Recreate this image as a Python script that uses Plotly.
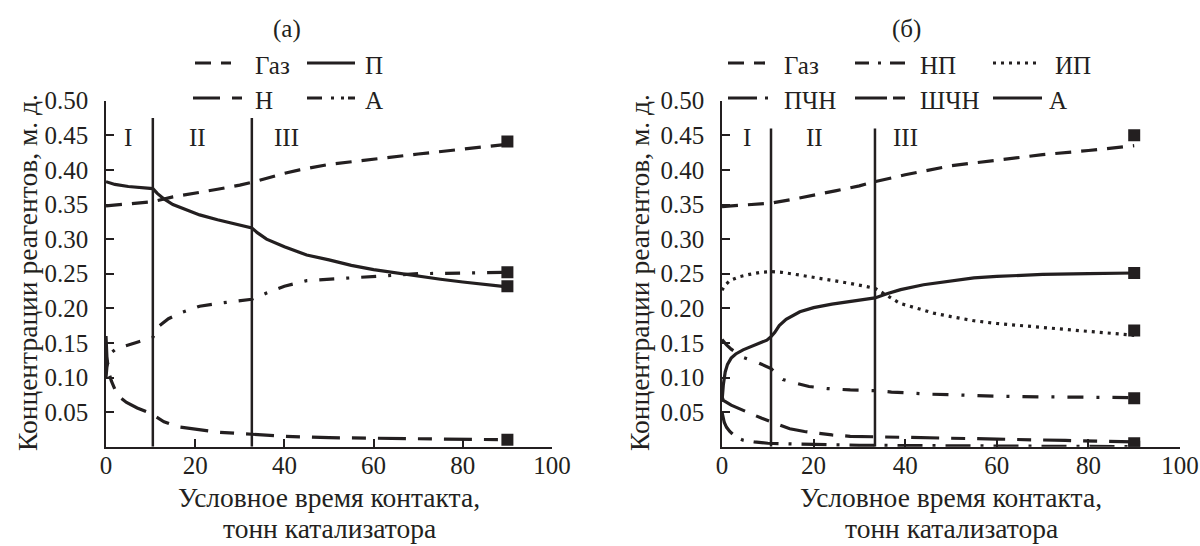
import plotly.graph_objects as go

INK = "#231f20"
FONT = "Liberation Serif, Times New Roman, serif"
FS = 25
FS_TITLE = 27.5

# ---------------- panel (а) data ----------------
a_gas_x = [0, 5, 10.5, 15, 20, 25, 30, 32.7, 40, 43.4, 50, 60, 70, 80, 90]
a_gas_y = [0.348, 0.351, 0.354, 0.361, 0.366, 0.372, 0.378, 0.382, 0.395, 0.400, 0.408, 0.416, 0.423, 0.430, 0.437]

a_p_x = [0, 2, 5, 8, 10.5, 11.5, 13, 15, 18, 21, 25, 29, 32.7, 34, 36, 40, 45, 50, 55, 60, 65, 70, 75, 80, 85, 90]
a_p_y = [0.383, 0.379, 0.376, 0.374, 0.373, 0.366, 0.358, 0.350, 0.342, 0.335, 0.328, 0.322, 0.316, 0.309,
         0.300, 0.289, 0.277, 0.270, 0.262, 0.256, 0.251, 0.246, 0.242, 0.238, 0.235, 0.231]

a_n_x = [0, 0.2, 0.6, 1.2, 2, 3, 4.6, 7, 10, 13, 16, 20, 23, 25, 32.7, 40, 50, 60, 70, 80, 90]
a_n_y = [0.160, 0.130, 0.108, 0.095, 0.083, 0.072, 0.064, 0.056, 0.048, 0.036, 0.029, 0.025, 0.022, 0.021,
         0.018, 0.015, 0.013, 0.012, 0.0115, 0.011, 0.010]

a_a_x = [0, 0.2, 0.6, 1.2, 2, 4, 7, 10.5, 12, 14, 17, 21, 25, 29, 32.7, 36, 40, 45, 50, 55, 60, 70, 80, 90]
a_a_y = [0.100, 0.115, 0.128, 0.136, 0.140, 0.145, 0.151, 0.158, 0.175, 0.185, 0.194, 0.203, 0.207, 0.210,
         0.213, 0.222, 0.232, 0.240, 0.242, 0.245, 0.247, 0.250, 0.251, 0.252]

a_end_x = [90, 90, 90, 90]
a_end_y = [0.441, 0.232, 0.010, 0.252]          # Газ, П, Н, А (экспериментальные точки)

a_bounds = [10.5, 32.7]
a_bound_top = 0.475

# ---------------- panel (б) data ----------------
b_gas_x = [0, 5, 10.7, 15, 20, 25, 30, 33.4, 40, 50, 60, 70, 80, 90]
b_gas_y = [0.347, 0.349, 0.352, 0.357, 0.363, 0.370, 0.377, 0.383, 0.393, 0.406, 0.414, 0.422, 0.428, 0.435]

b_np_x = [0, 1, 2, 4.6, 8, 10.7, 12, 13.3, 16, 19, 23, 28, 33.4, 37, 45, 51, 60, 70, 80, 90]
b_np_y = [0.155, 0.147, 0.141, 0.129, 0.121, 0.113, 0.104, 0.097, 0.092, 0.087, 0.084, 0.082, 0.081, 0.079,
          0.076, 0.0745, 0.073, 0.072, 0.0715, 0.071]

b_ip_x = [0, 0.5, 1.7, 4, 6, 8.5, 10.7, 13, 17, 22, 28, 33.4, 36.7, 38.9, 42.6, 46.2, 50, 55, 60, 65, 70, 75, 80, 85, 90]
b_ip_y = [0.226, 0.232, 0.240, 0.246, 0.249, 0.252, 0.253, 0.252, 0.248, 0.243, 0.236, 0.229, 0.2165, 0.207,
          0.200, 0.193, 0.188, 0.182, 0.178, 0.175, 0.172, 0.169, 0.166, 0.163, 0.161]

b_pchn_x = [0, 0.5, 1, 1.7, 3, 4.6, 7, 10, 15, 20, 30, 45, 60, 75, 90]
b_pchn_y = [0.050, 0.035, 0.028, 0.022, 0.014, 0.0095, 0.007, 0.005, 0.004, 0.003, 0.002, 0.0015, 0.001, 0.0005, 0.0]

b_shchn_x = [0, 0.3, 2, 5.4, 8.7, 10.7, 14.8, 18, 24, 28, 35, 45, 60, 75, 90]
b_shchn_y = [0.072, 0.067, 0.060, 0.050, 0.041, 0.036, 0.026, 0.022, 0.017, 0.015, 0.014, 0.012, 0.011, 0.009, 0.007]

b_a_x = [0, 0.3, 0.7, 1.2, 2, 3, 4.6, 7, 9.8, 10.7, 11.5, 12.5, 14, 17, 20, 24, 28, 33.4, 36, 39, 44, 50, 55, 60, 70, 80, 90]
b_a_y = [0.065, 0.090, 0.108, 0.119, 0.128, 0.134, 0.140, 0.147, 0.154, 0.159, 0.165, 0.175, 0.184, 0.195, 0.201,
         0.206, 0.210, 0.215, 0.221, 0.227, 0.234, 0.240, 0.244, 0.246, 0.249, 0.250, 0.251]

b_end_x = [90, 90, 90, 90, 90, 90]
b_end_y = [0.450, 0.070, 0.168, 0.0, 0.005, 0.251]   # Газ, НП, ИП, ПЧН, ШЧН, А

b_bounds = [10.7, 33.4]
b_bound_top = 0.46

zone_labels = ["I", "II", "III"]
a_zone_x = [5, 20.5, 40.5]
b_zone_x = [5.4, 20.2, 40]
zone_y = 0.447

x_ticks = [0, 20, 40, 60, 80, 100]
y_ticks = [0.05, 0.10, 0.15, 0.20, 0.25, 0.30, 0.35, 0.40, 0.45, 0.50]

# ---------------- styles ----------------
DASH_GAS = "16px,10px"
DASH_LONG_SHORT = "28px,12px,14px,12px"
DASH_DOT_A = "15px,12px,3px,12px"
DASH_DOT_B = "16px,13px,3px,13px"
DASH_DOTTED = "3px,5px"
DASH_LONG_DOT = "25px,10px,3px,10px"
LW = 3.2

W, H = 1200, 546


def px(x):
    return x / W


def py(y):
    return (H - y) / H


fig = go.Figure()


def add_line(x, y, dash, name, xa, ya):
    fig.add_trace(go.Scatter(x=x, y=y, mode="lines", name=name, showlegend=False,
                             line=dict(color=INK, width=LW, dash=dash),
                             xaxis=xa, yaxis=ya))


add_line(a_gas_x, a_gas_y, DASH_GAS, "Газ", "x", "y")
add_line(a_p_x, a_p_y, "solid", "П", "x", "y")
add_line(a_n_x, a_n_y, DASH_LONG_SHORT, "Н", "x", "y")
add_line(a_a_x, a_a_y, DASH_DOT_A, "А", "x", "y")
fig.add_trace(go.Scatter(x=a_end_x, y=a_end_y, mode="markers", showlegend=False,
                         marker=dict(symbol="square", size=12, color=INK), xaxis="x", yaxis="y"))

add_line(b_gas_x, b_gas_y, DASH_GAS, "Газ", "x2", "y2")
add_line(b_np_x, b_np_y, DASH_DOT_B, "НП", "x2", "y2")
add_line(b_ip_x, b_ip_y, DASH_DOTTED, "ИП", "x2", "y2")
add_line(b_pchn_x, b_pchn_y, DASH_LONG_DOT, "ПЧН", "x2", "y2")
add_line(b_shchn_x, b_shchn_y, DASH_LONG_SHORT, "ШЧН", "x2", "y2")
add_line(b_a_x, b_a_y, "solid", "А", "x2", "y2")
fig.add_trace(go.Scatter(x=b_end_x, y=b_end_y, mode="markers", showlegend=False,
                         marker=dict(symbol="square", size=12, color=INK), xaxis="x2", yaxis="y2"))

shapes = []
for xb in a_bounds:
    shapes.append(dict(type="line", xref="x", yref="y", x0=xb, x1=xb, y0=0, y1=a_bound_top,
                       line=dict(color=INK, width=2.5)))
for xb in b_bounds:
    shapes.append(dict(type="line", xref="x2", yref="y2", x0=xb, x1=xb, y0=0, y1=b_bound_top,
                       line=dict(color=INK, width=2.5)))

annotations = []
for lab, xz in zip(zone_labels, a_zone_x):
    annotations.append(dict(text=lab, x=xz, y=zone_y, xref="x", yref="y", showarrow=False,
                            xanchor="center", yanchor="middle",
                            font=dict(size=FS, family=FONT, color=INK)))
for lab, xz in zip(zone_labels, b_zone_x):
    annotations.append(dict(text=lab, x=xz, y=zone_y, xref="x2", yref="y2", showarrow=False,
                            xanchor="center", yanchor="middle",
                            font=dict(size=FS, family=FONT, color=INK)))

# ---------------- manual legends ----------------
legend_a = [  # (label, dash, sample x0, sample x1, text x, row y)
    ("Газ", DASH_GAS, 195, 231, 253, 63),
    ("П", "solid", 307, 355, 363, 63),
    ("Н", "27px,12px,10px,20px", 193, 243, 253, 98),
    ("А", "15px,9px,3px,7px,3px,4px,8px", 307, 355, 363, 98),
]
legend_b = [
    ("Газ", DASH_GAS, 728, 765, 782, 63),
    ("НП", "14px,9px,3px,9px,15px", 855, 905, 918, 63),
    ("ИП", DASH_DOTTED, 993, 1040, 1053, 63),
    ("ПЧН", "29px,8px,3px,10px", 728, 768, 782, 98),
    ("ШЧН", "32px,6px,12px,10px", 855, 905, 918, 98),
    ("А", "solid", 993, 1042, 1047, 98),
]
for lab, dash, x0, x1, xt, yr in legend_a + legend_b:
    shapes.append(dict(type="line", xref="paper", yref="paper", x0=px(x0), x1=px(x1),
                       y0=py(yr), y1=py(yr), line=dict(color=INK, width=LW, dash=dash)))
    annotations.append(dict(text=lab, x=px(xt), y=py(yr + 2), xref="paper", yref="paper",
                            xanchor="left", yanchor="middle", showarrow=False,
                            font=dict(size=FS, family=FONT, color=INK)))

# panel titles
for lab, xc in (("(а)", 287), ("(б)", 906)):
    annotations.append(dict(text=lab, x=px(xc), y=py(29), xref="paper", yref="paper", showarrow=False,
                            xanchor="center", yanchor="middle",
                            font=dict(size=FS, family=FONT, color=INK)))

# axis titles
y_title = "Концентрации реагентов, м. д."
x_title_lines = ["Условное время контакта,", "тонн катализатора"]
x_title_rows = [497, 528]
for xc in (27, 639):
    annotations.append(dict(text=y_title, x=px(xc), y=py(273), xref="paper", yref="paper",
                            xanchor="center", yanchor="middle",
                            textangle=-90, showarrow=False, font=dict(size=FS_TITLE, family=FONT, color=INK)))
for xc in (329, 951):
    for line, yr in zip(x_title_lines, x_title_rows):
        annotations.append(dict(text=line, x=px(xc), y=py(yr), xref="paper", yref="paper",
                                xanchor="center", yanchor="middle",
                                showarrow=False, font=dict(size=FS_TITLE, family=FONT, color=INK)))

xdom_a = [106 / W, 552 / W]
xdom_b = [722 / W, 1180 / W]
ydom = [py(446.7), py(100.7)]

axis_common = dict(showline=True, linecolor=INK, linewidth=1.5, ticks="inside", ticklen=8,
                   tickwidth=1.5, tickcolor=INK, showgrid=False, zeroline=False, automargin=False,
                   tickfont=dict(size=FS, family=FONT, color=INK))

fig.update_layout(
    template="none",
    width=W, height=H, margin=dict(l=0, r=0, t=0, b=0, pad=0, autoexpand=False),
    paper_bgcolor="white", plot_bgcolor="white",
    font=dict(family=FONT, size=FS, color=INK),
    showlegend=False,
    xaxis=dict(domain=xdom_a, range=[0, 100], anchor="y", tickvals=x_ticks, ticklabelstandoff=-4, **axis_common),
    yaxis=dict(domain=ydom, range=[0, 0.5], anchor="x", tickvals=y_ticks, tickformat=".2f",
               ticklabelstandoff=11, **axis_common),
    xaxis2=dict(domain=xdom_b, range=[0, 100], anchor="y2", tickvals=x_ticks, ticklabelstandoff=-4, **axis_common),
    yaxis2=dict(domain=ydom, range=[0, 0.5], anchor="x2", tickvals=y_ticks, tickformat=".2f",
                ticklabelstandoff=11, **axis_common),
    shapes=shapes,
    annotations=annotations,
)

fig.write_html("out.html")
